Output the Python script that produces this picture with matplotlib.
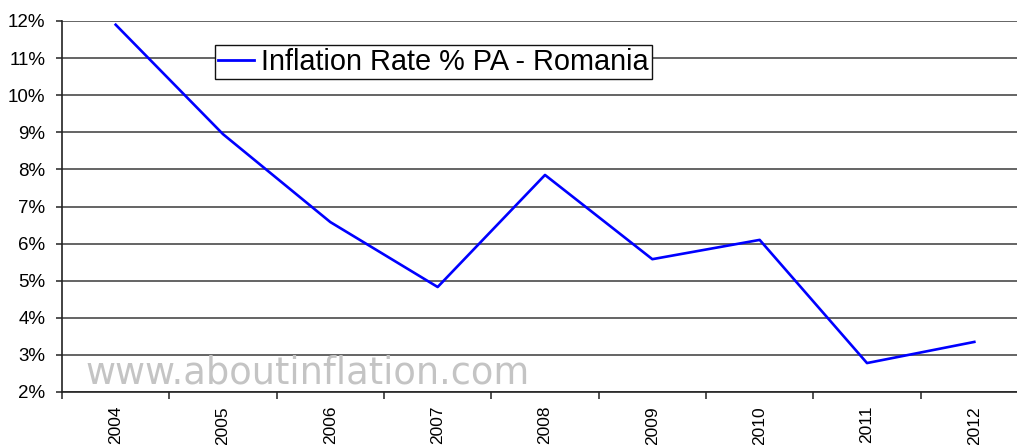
import matplotlib
matplotlib.use("Agg")
import matplotlib.pyplot as plt
from matplotlib.ticker import FixedLocator, FuncFormatter
import numpy as np

years = ["2004", "2005", "2006", "2007", "2008", "2009", "2010", "2011", "2012"]
inflation = [11.9, 8.95, 6.58, 4.83, 7.85, 5.58, 6.1, 2.78, 3.35]
y_ticks = [2, 3, 4, 5, 6, 7, 8, 9, 10, 11, 12]
series_label = "Inflation Rate % PA - Romania"
watermark = "www.aboutinflation.com"

plt.rcParams['font.family'] = ['Liberation Sans', 'DejaVu Sans']

W, H = 1017, 445
fig = plt.figure(figsize=(W / 100, H / 100), dpi=100)
left_px, right_px, top_px, bottom_px = 62, 1028, 21, 392
ax = fig.add_axes([left_px / W, (H - bottom_px) / H,
                   (right_px - left_px) / W, (bottom_px - top_px) / H])

x = np.arange(len(years))
ax.plot(x, inflation, color="#0000FF", lw=1.9, label=series_label, zorder=3)

ax.set_xlim(-0.5, len(years) - 0.5)
ax.set_ylim(2, 12)
ax.set_yticks(y_ticks)
ax.yaxis.set_major_formatter(FuncFormatter(lambda v, p: f"{int(round(v))}%"))
ax.grid(axis="y", color="#3a3a3a", lw=1.1, zorder=1)
ax.set_axisbelow(True)

ax.set_xticks(x)
ax.set_xticklabels(years, rotation=90, fontsize=12.5)
ax.xaxis.set_minor_locator(FixedLocator(np.arange(-0.5, len(years), 1.0)))
ax.tick_params(axis="x", which="major", length=0, pad=10)
ax.tick_params(axis="x", which="minor", length=5, width=1.1, color="#222222")
ax.tick_params(axis="y", length=4, width=1.1, color="#222222", pad=8, labelsize=13.5)

for s in ["top", "right"]:
    ax.spines[s].set_visible(False)
ax.spines["left"].set_color("#222222")
ax.spines["left"].set_linewidth(1.2)
ax.spines["bottom"].set_color("#222222")
ax.spines["bottom"].set_linewidth(1.2)

fig.text(85 / W, (H - 383) / H, watermark, color="#c4c4c4", fontsize=26.5,
         family=["DejaVu Sans"], ha="left", va="baseline", zorder=2)

leg = ax.legend(loc="upper left", bbox_to_anchor=(215 / W, (H - 45) / H),
                bbox_transform=fig.transFigure, fontsize=20.8, frameon=True,
                fancybox=False, edgecolor="#111111", framealpha=1,
                handlelength=1.25, handletextpad=0.25, borderpad=0.1,
                borderaxespad=0)
leg.get_frame().set_linewidth(1.0)
leg.get_lines()[0].set_linewidth(2.0)

fig.savefig("out.png", dpi=100)
